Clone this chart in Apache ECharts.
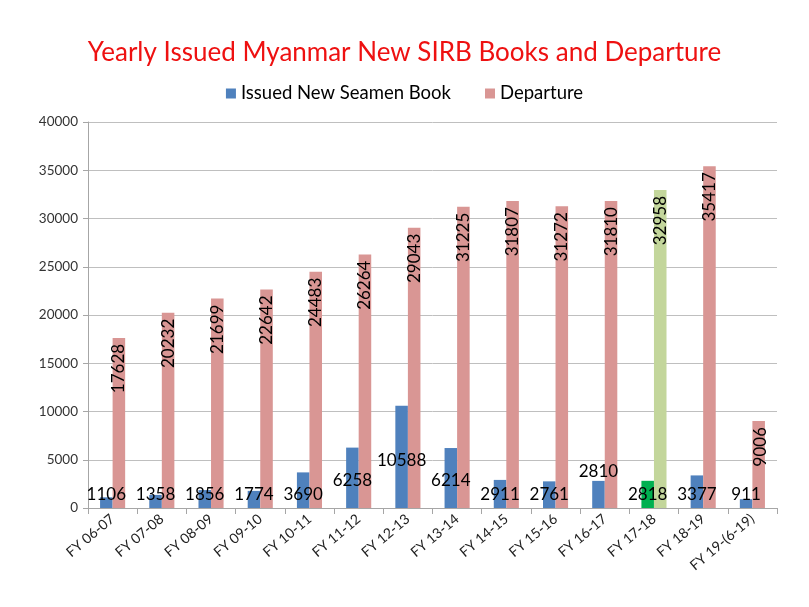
<!DOCTYPE html>
<html>
<head>
<meta charset="utf-8">
<script src="https://cdn.jsdelivr.net/npm/echarts@6/dist/echarts.min.js"></script>
<style>
  html, body { margin: 0; padding: 0; background: #fff; }
  #chart { width: 809px; height: 607px; }
</style>
</head>
<body>
<div id="chart"></div>
<script>
// fiscal years
const years = ['FY 06-07', 'FY 07-08', 'FY 08-09', 'FY 09-10', 'FY 10-11', 'FY 11-12', 'FY 12-13',
  'FY 13-14', 'FY 14-15', 'FY 15-16', 'FY 16-17', 'FY 17-18', 'FY 18-19', 'FY 19-(6-19)'];
const issuedBooks = [1106, 1358, 1856, 1774, 3690, 6258, 10588, 6214, 2911, 2761, 2810, 2818, 3377, 911];
const departures = [17628, 20232, 21699, 22642, 24483, 26264, 29043, 31225, 31807, 31272, 31810, 32958, 35417, 9006];
const yTicks = [0, 5000, 10000, 15000, 20000, 25000, 30000, 35000, 40000];

// styling only
const FONT = 'Lato, "Open Sans", sans-serif';
const HIGHLIGHT = 11; // FY 17-18 drawn in green
const blueLabelLift = { 5: 19, 6: 39, 7: 19, 10: 28 };

const chart = echarts.init(document.getElementById('chart'));

const blueData = issuedBooks.map((v, i) => {
  const item = { value: v };
  if (i === HIGHLIGHT) item.itemStyle = { color: '#00B050' };
  if (blueLabelLift[i] !== undefined) item.label = { distance: blueLabelLift[i] };
  return item;
});

const pinkData = departures.map((v, i) => {
  const item = { value: v };
  if (i === HIGHLIGHT) item.itemStyle = { color: '#C3D69B' };
  if (i === departures.length - 1) item.label = { rotate: -90, align: 'left' };
  return item;
});

const option = {
  animation: false,
  textStyle: { fontFamily: FONT },
  title: {
    text: 'Yearly Issued Myanmar New SIRB Books and Departure',
    left: 'center',
    top: 35,
    textStyle: { color: '#EE1111', fontSize: 26, fontWeight: 'normal', fontFamily: FONT },
  },
  legend: {
    data: ['Issued New Seamen Book', 'Departure'],
    top: 79,
    left: 'center',
    itemWidth: 10,
    itemHeight: 10,
    itemGap: 34,
    icon: 'rect',
    textStyle: { color: '#000', fontSize: 18.5, fontFamily: FONT },
  },
  grid: {
    left: 88,
    right: 32,
    top: 122,
    bottom: 99,
  },
  xAxis: {
    type: 'category',
    data: years,
    axisLine: { lineStyle: { color: '#A6A6A6' } },
    axisTick: { show: true, length: 6, lineStyle: { color: '#A6A6A6' } },
    axisLabel: { rotate: 40, color: '#222', fontSize: 14, margin: 9, interval: 0 },
  },
  yAxis: {
    type: 'value',
    min: yTicks[0],
    max: yTicks[yTicks.length - 1],
    interval: yTicks[1] - yTicks[0],
    axisLine: { show: true, lineStyle: { color: '#A6A6A6' } },
    axisTick: { show: true, length: 5, lineStyle: { color: '#A6A6A6' } },
    axisLabel: { color: '#333', fontSize: 13.5, margin: 10, formatter: (v) => String(v) },
    splitLine: { lineStyle: { color: '#BFBFBF', width: 1 } },
  },
  series: [{
    name: 'Issued New Seamen Book',
    type: 'bar',
    data: blueData,
    barGap: '0%',
    barCategoryGap: '49%',
    itemStyle: { color: '#4F81BD' },
    label: {
      show: true,
      position: 'insideBottom',
      distance: 5,
      color: '#000',
      fontSize: 17,
      fontFamily: FONT,
    },
  }, {
    name: 'Departure',
    type: 'bar',
    data: pinkData,
    barGap: '0%',
    barCategoryGap: '49%',
    itemStyle: { color: '#D99694' },
    label: {
      show: true,
      position: 'insideTop',
      distance: 6,
      rotate: 90,
      align: 'right',
      verticalAlign: 'middle',
      color: '#000',
      fontSize: 17,
      fontFamily: FONT,
    },
  }],
};

chart.setOption(option);
</script>
</body>
</html>
